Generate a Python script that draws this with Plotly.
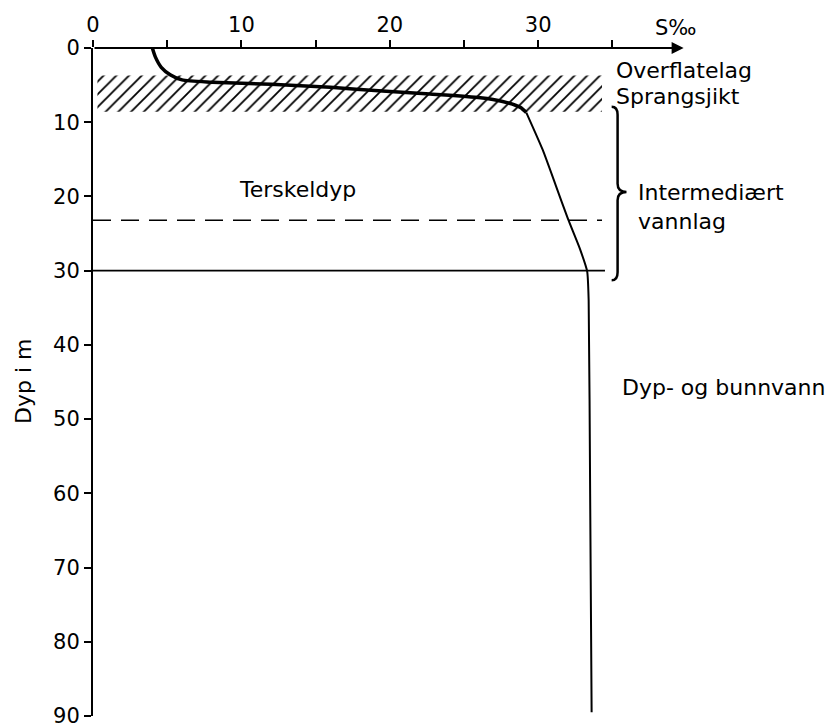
import plotly.graph_objects as go

# ---- data ----
# salinity profile (S per mille) vs depth (m): upper (surface + halocline) part
sal_upper = [4.0, 4.2, 4.6, 5.2, 6.0, 8.0, 12.0, 16.0, 19.5, 22.7, 26.1, 27.6, 28.8, 29.2]
dep_upper = [0.0, 1.2, 2.6, 3.6, 4.3, 4.6, 4.9, 5.3, 5.8, 6.2, 6.7, 7.2, 8.0, 8.7]
# lower (intermediate + deep) part
sal_lower = [29.2, 30.3, 31.2, 32.0, 32.8, 33.3, 33.4, 33.5, 33.6]
dep_lower = [8.7, 13.7, 18.6, 23.0, 27.0, 30.1, 34.0, 60.0, 89.5]

# hatched halocline band (Sprangsjikt)
band_sal = [0.3, 34.3]
band_dep = [3.7, 8.6]

# sill depth (dashed) and lower limit of intermediate layer (solid)
sill_depth = 23.2
sill_sal = [0.0, 34.3]
inter_bottom = 30.0
inter_sal = [0.0, 34.5]

# brace for the intermediate layer
brace_top, brace_mid, brace_bottom = 7.9, 19.4, 31.3

x_major = [0, 10, 20, 30]
x_minor = [5, 15, 25, 35]
y_ticks = [0, 10, 20, 30, 40, 50, 60, 70, 80, 90]

FONT = "DejaVu Sans"

# page body has an 8px margin: compensate so the plot lands where the reference has it
W, H = 829, 719
L, R, T, B = 85, 2, 40, 11
PW, PH = W - L - R, H - T - B

fig = go.Figure()

# hatched band
fig.add_trace(go.Scatter(
    x=[band_sal[0], band_sal[1], band_sal[1], band_sal[0], band_sal[0]],
    y=[band_dep[0], band_dep[0], band_dep[1], band_dep[1], band_dep[0]],
    mode="lines", fill="toself", line=dict(width=0, color="rgba(0,0,0,0)"),
    fillcolor="white",
    fillpattern=dict(shape="/", fgcolor="black", bgcolor="white", size=9, solidity=0.2),
    hoverinfo="skip", showlegend=False))

# sill depth dashed line
fig.add_trace(go.Scatter(
    x=sill_sal, y=[sill_depth, sill_depth], mode="lines",
    line=dict(color="black", width=1.6, dash="18px,10px"), showlegend=False))

# solid line at 30 m
fig.add_trace(go.Scatter(
    x=inter_sal, y=[inter_bottom, inter_bottom], mode="lines",
    line=dict(color="black", width=1.6), showlegend=False))

# salinity profile
fig.add_trace(go.Scatter(
    x=sal_upper, y=dep_upper, mode="lines", line=dict(color="black", width=3.5, shape="spline", smoothing=0.6),
    showlegend=False))
fig.add_trace(go.Scatter(
    x=sal_lower, y=dep_lower, mode="lines", line=dict(color="black", width=2, shape="spline", smoothing=0.5),
    showlegend=False))

# brace
bx, hook, tip = 35.35, 34.95, 35.95
path = (f"M {hook} {brace_top} Q {bx} {brace_top} {bx} {brace_top+1.1} "
        f"L {bx} {brace_mid-1.1} Q {bx} {brace_mid} {tip} {brace_mid} "
        f"Q {bx} {brace_mid} {bx} {brace_mid+1.1} "
        f"L {bx} {brace_bottom-1.1} Q {bx} {brace_bottom} {hook} {brace_bottom}")
fig.add_shape(type="path", path=path, xref="x", yref="y", line=dict(color="black", width=2.5))

# x-axis line with arrow
fig.add_annotation(x=39.8, y=0, ax=0, ay=0, xref="x", yref="y", axref="x", ayref="y",
                   text="", showarrow=True, arrowhead=2, arrowsize=1.2, arrowwidth=2,
                   arrowcolor="black", standoff=0, startstandoff=0)

txt = dict(size=22, color="black", family=FONT)
labels = [
    ("Overflatelag", 35.1, 3.0),
    ("Sprangsjikt", 35.1, 6.6),
    ("Intermediært", 36.6, 19.5),
    ("vannlag", 36.6, 23.4),
    ("Terskeldyp", 9.7, 19.0),
    ("Dyp- og bunnvann", 35.5, 45.8),
]
for t, x, y in labels:
    fig.add_annotation(x=x, y=y, xref="x", yref="y", text=t, showarrow=False,
                       xanchor="left", yanchor="middle", font=txt)

fig.add_annotation(x=(653 - 93) / PW, y=1 + 20 / PH, xref="paper", yref="paper",
                   text="S‰", showarrow=False, xanchor="left", yanchor="middle",
                   font=dict(size=21, color="black", family=FONT))
fig.add_annotation(x=(23 - 93) / PW, y=1 - (382 - 48) / PH, xref="paper", yref="paper",
                   text="Dyp i m", textangle=-90, showarrow=False,
                   xanchor="center", yanchor="middle", font=txt)

fig.update_layout(
    template="none",
    width=W, height=H,
    margin=dict(l=L, r=R, t=T, b=B),
    paper_bgcolor="white", plot_bgcolor="white",
    showlegend=False,
    xaxis=dict(range=[0, 50], side="top", showgrid=False, zeroline=False, showline=False,
               tickmode="array", tickvals=x_major, ticktext=[str(v) for v in x_major],
               ticks="outside", ticklen=7, tickwidth=1.5, tickcolor="black",
               minor=dict(tickvals=x_minor, ticks="outside", ticklen=7, tickwidth=1.5,
                          tickcolor="black", showgrid=False),
               ticklabeloverflow="allow",
               tickfont=dict(size=21, color="black", family=FONT), automargin=False),
    yaxis=dict(range=[90, 0], showgrid=False, zeroline=False, showline=True,
               linecolor="black", linewidth=2,
               tickmode="array", tickvals=y_ticks, ticktext=[str(v) for v in y_ticks],
               ticks="outside", ticklen=7, tickwidth=1.5, tickcolor="black",
               ticklabeloverflow="allow",
               tickfont=dict(size=21, color="black", family=FONT), automargin=False),
)

fig.write_html("out.html")
